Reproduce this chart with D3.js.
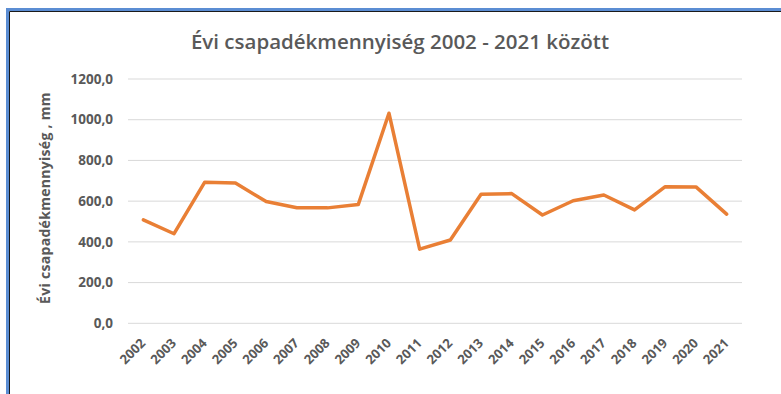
<!DOCTYPE html>
<html>
<head>
<meta charset="utf-8">
<script src="https://cdn.jsdelivr.net/npm/d3@7"></script>
<style>
  html, body { margin: 0; padding: 0; background: #ffffff; }
  svg { display: block; }
</style>
</head>
<body>
<svg id="chart" width="781" height="394"></svg>
<script>
// Annual precipitation, 2002–2021 (mm)
const years = ["2002","2003","2004","2005","2006","2007","2008","2009","2010","2011",
               "2012","2013","2014","2015","2016","2017","2018","2019","2020","2021"];
const precipitation = [508, 440, 693, 689, 598, 568, 567, 583, 1032, 364,
                       409, 634, 637, 532, 602, 630, 557, 671, 670, 536];
const yTicks = [0, 200, 400, 600, 800, 1000, 1200];

const titleText = "Évi csapadékmennyiség 2002 - 2021 között";
const yAxisTitle = "Évi csapadékmennyiség , mm";

const svg = d3.select("#chart");
const W = 781, H = 394;
const plot = { left: 128, right: 742, top: 79, bottom: 323.3 };

svg.append("rect").attr("width", W).attr("height", H).attr("fill", "#ffffff");

// window frame
svg.append("rect")
  .attr("x", 7.5).attr("y", 9.5)
  .attr("width", W + 20).attr("height", H + 20)
  .attr("fill", "none").attr("stroke", "#5b8dd3").attr("stroke-width", 3);
svg.append("path")
  .attr("d", `M9.5,${H + 5}V11.5H${W + 5}`)
  .attr("fill", "none").attr("stroke", "#1a1a1a").attr("stroke-width", 1);

const x = d3.scaleBand().domain(years).range([plot.left, plot.right]);
const y = d3.scaleLinear().domain([0, 1200]).range([plot.bottom, plot.top]);

const fmt = v => d3.format(".1f")(v).replace(".", ",");

// gridlines
svg.append("g")
  .selectAll("line")
  .data(yTicks)
  .join("line")
  .attr("x1", plot.left).attr("x2", plot.right)
  .attr("y1", d => y(d)).attr("y2", d => y(d))
  .attr("stroke", "#d9d9d9").attr("stroke-width", 1);

// y tick labels
svg.append("g")
  .selectAll("text")
  .data(yTicks)
  .join("text")
  .attr("x", plot.left - 15)
  .attr("y", d => y(d))
  .attr("dy", "0.35em")
  .attr("text-anchor", "end")
  .attr("font-family", "'Open Sans', sans-serif")
  .attr("font-weight", 700)
  .attr("font-size", 13.5)
  .attr("fill", "#595959")
  .text(fmt);

// x tick labels, rotated
svg.append("g")
  .selectAll("text")
  .data(years)
  .join("text")
  .attr("transform", d => `translate(${x(d) + x.bandwidth() / 2 + 3},${344}) rotate(-45)`)
  .attr("text-anchor", "end")
  .attr("font-family", "'Open Sans', sans-serif")
  .attr("font-weight", 700)
  .attr("font-size", 13)
  .attr("fill", "#595959")
  .text(d => d);

// y axis title
svg.append("text")
  .attr("transform", `translate(50,198) rotate(-90)`)
  .attr("text-anchor", "middle")
  .attr("font-family", "'Open Sans', sans-serif")
  .attr("font-weight", 700)
  .attr("font-size", 14)
  .attr("letter-spacing", 0.3)
  .attr("fill", "#595959")
  .text(yAxisTitle);

// chart title
svg.append("text")
  .attr("x", 400).attr("y", 49)
  .attr("text-anchor", "middle")
  .attr("font-family", "'Open Sans', sans-serif")
  .attr("font-weight", 600)
  .attr("font-size", 20.5)
  .attr("fill", "#595959")
  .text(titleText);

// precipitation line
const line = d3.line()
  .x((d, i) => x(years[i]) + x.bandwidth() / 2)
  .y(d => y(d));

svg.append("path")
  .datum(precipitation)
  .attr("d", line)
  .attr("fill", "none")
  .attr("stroke", "#e97f35")
  .attr("stroke-width", 3.5)
  .attr("stroke-linejoin", "round")
  .attr("stroke-linecap", "round");
</script>
</body>
</html>
